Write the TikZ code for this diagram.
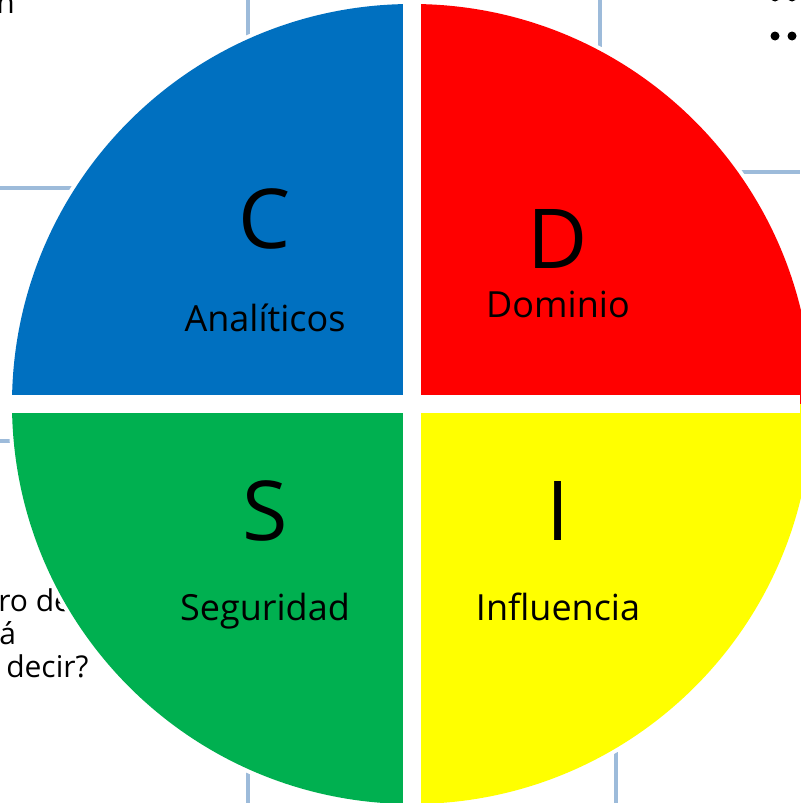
\documentclass[tikz,border=0pt]{standalone}
\usepackage{fontspec}
\setmainfont{Open Sans}
\definecolor{discC}{RGB}{0,112,192}
\definecolor{discD}{RGB}{255,0,0}
\definecolor{discS}{RGB}{0,176,80}
\definecolor{discI}{RGB}{255,255,0}
\definecolor{gridline}{RGB}{157,187,218}
\begin{document}
\begin{tikzpicture}[x=0.75pt,y=-0.75pt,
  gridl/.style={draw=gridline,line width=2.8pt},
  bigletter/.style={anchor=base,inner sep=0pt,font=\fontsize{62}{62}\selectfont},
  qlabel/.style={anchor=base,inner sep=0pt,font=\fontsize{27}{27}\selectfont},
  bgtext/.style={anchor=base west,inner sep=0pt,font=\fontsize{22.5}{24}\selectfont}]
\useasboundingbox (0,0) rectangle (800,803);
% background table grid
\draw[gridl] (248,0) -- (248,803);
\draw[gridl] (600,0) -- (600,200);
\draw[gridl] (616,600) -- (616,803);
\draw[gridl] (0,188) -- (300,188);
\draw[gridl] (500,172) -- (800,172);
\draw[gridl] (0,441) -- (200,441);
% background texts
\node[bgtext] (tn) at (-4,13) {n};
\node[bgtext] (t1) at (-2,611) {ro de};
\node[bgtext] (t2) at (-1,644) {á};
\node[bgtext] (t3) at (6,677) {decir?};
\fill (775,36) circle (4.5) (792,36) circle (4.5);
\fill (775,-3) circle (4.5) (792,-3) circle (4.5);
% disc
\coordinate (ctr) at (412,404);
\fill[white] (ctr) circle (404);
\fill[discC] (ctr) -- ++(-400,0) arc[start angle=180,end angle=270,radius=400] -- cycle;
\fill[discD] (ctr) -- ++(0,-400) arc[start angle=270,end angle=360,radius=400] -- cycle;
\fill[discS] (ctr) -- ++(0,400) arc[start angle=90,end angle=180,radius=400] -- cycle;
\fill[discI] (ctr) -- ++(400,0) arc[start angle=0,end angle=90,radius=400] -- cycle;
\fill[white] (403,0) rectangle (421,803);
\fill[white] (0,395) rectangle (800,413);
% labels
\node[bigletter] (C) at (265,248) {C};
\node[qlabel] (lc) at (265,331) {Analíticos};
\node[bigletter] (D) at (558,268) {D};
\node[qlabel] (ld) at (558,317) {Dominio};
\node[bigletter] (S) at (265,540) {S};
\node[qlabel] (ls) at (265,620) {Seguridad};
\node[bigletter] (I) at (558,540) {I};
\node[qlabel] (li) at (558,620) {Influencia};
\end{tikzpicture}
\end{document}
